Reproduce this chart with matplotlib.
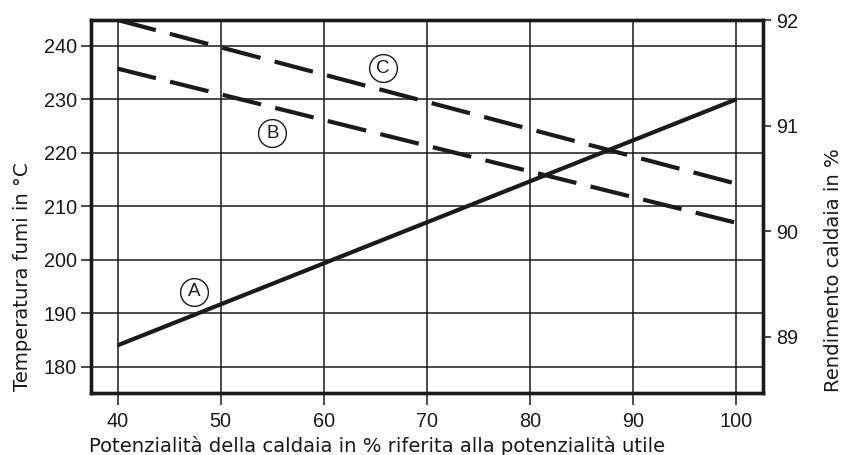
import matplotlib
matplotlib.use("Agg")
import matplotlib.pyplot as plt

# ---- data ----
load_pct = [40, 100]
temp_A = [184, 230]          # flue gas temperature (left axis, °C)
eff_B = [91.54, 90.08]       # boiler efficiency B (right axis, %)
eff_C = [92.0, 90.45]        # boiler efficiency C (right axis, %)
x_ticks = [40, 50, 60, 70, 80, 90, 100]
left_ticks = [180, 190, 200, 210, 220, 230, 240]
right_ticks = [89, 90, 91, 92]
labels_pos = {"A": (47.4, 194.0), "B": (55.0, 223.6), "C": (65.7, 235.8)}

plt.rcParams['font.family'] = ['Liberation Sans', 'DejaVu Sans']
W, H = 847, 455
fig = plt.figure(figsize=(W / 100, H / 100), dpi=100)
L, R, T, B = 90.7, 763.3, 20, 393
ax = fig.add_axes([L / W, 1 - B / H, (R - L) / W, (B - T) / H])
ax2 = ax.twinx()

ink = '#1a1a1a'
ax.set_xlim(37.4, 102.6)
ax.set_ylim(175.1, 244.8)
ax2.set_ylim(88.47, 92.0)

ax.set_xticks(x_ticks)
ax.set_yticks(left_ticks)
ax2.set_yticks(right_ticks)
ax.grid(True, color=ink, linewidth=1.1)
ax.set_axisbelow(True)

ax.plot(load_pct, temp_A, color=ink, linewidth=3.0, solid_capstyle='butt', zorder=3)
for vals in (eff_B, eff_C):
    ax2.plot(load_pct, vals, color=ink, linewidth=3.0,
             linestyle=(0, (9.5, 3.5)), dash_capstyle='butt', zorder=3)

for a in (ax, ax2):
    for s in a.spines.values():
        s.set_linewidth(2.4)
        s.set_color(ink)

ax.tick_params(axis='y', length=7, width=1.1, pad=3, labelsize=14.3, colors=ink)
ax.tick_params(axis='x', length=8.5, width=1.1, pad=5.5, labelsize=14.3, colors=ink)
ax2.tick_params(axis='y', length=6, width=1.1, pad=3.5, labelsize=14.3, colors=ink)

for key, (xx, yy) in labels_pos.items():
    ax.plot([xx], [yy], marker='o', markersize=20, markerfacecolor='white',
            markeredgecolor=ink, markeredgewidth=1.0, zorder=4)
    ax.text(xx, yy, key, ha='center', va='center', fontsize=13.5, color=ink, zorder=5)

lab_font = dict(family=['DejaVu Sans'], fontsize=14.1, color=ink)
fig.text(89 / W, 1 - 452 / H, "Potenzialità della caldaia in % riferita alla potenzialità utile",
         ha='left', va='baseline', **lab_font)
fig.text(23 / W, 1 - 277 / H, "Temperatura fumi in °C", rotation=90,
         ha='center', va='center', **lab_font)
fig.text(833 / W, 1 - 270 / H, "Rendimento caldaia in %", rotation=90,
         ha='center', va='center', **lab_font)

fig.savefig("out.png", dpi=100)
